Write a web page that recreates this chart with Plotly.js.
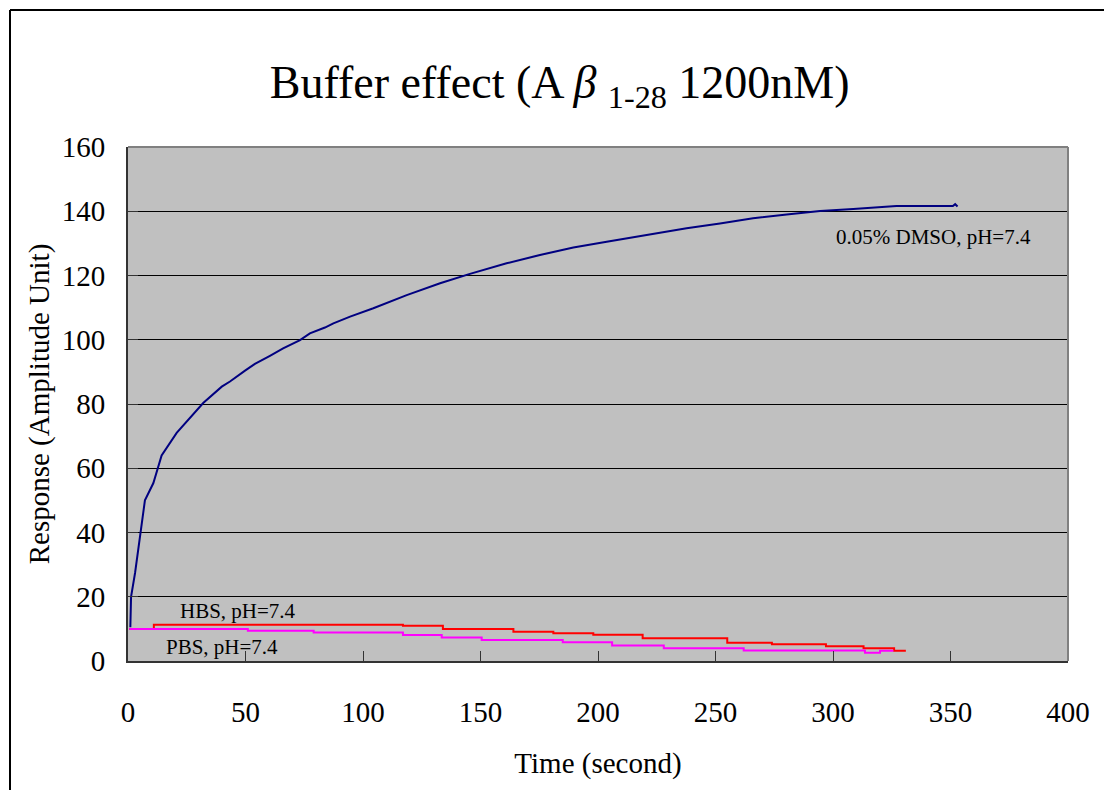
<!DOCTYPE html>
<html>
<head>
<meta charset="utf-8">
<script src="https://cdn.plot.ly/plotly-3.0.1.min.js"></script>
<style>html,body{margin:0;padding:0;background:#fff;}#chart{width:1104px;height:790px;}</style>
</head>
<body>
<div id="chart"></div>
<script>
// ---- data ----
const dmsoTime = [1, 1.3, 3, 4.4, 5.5, 7.2, 10.8, 14.3, 20.7, 25, 32, 39.9, 43.4, 49.8, 54, 60.4, 66, 73.2, 77.4, 83.8, 87.4, 94.5, 104.4, 118.6, 132.8, 145.5, 161.1, 175.3, 189.5, 203.7, 216.5, 223.5, 237.7, 251.9, 266, 280.3, 294.5, 308.6, 315.7, 327, 351, 352, 353];
const dmsoResp = [10.5, 20, 27.4, 34.5, 40, 50, 55.4, 64, 71, 74.5, 80.3, 85.4, 87, 90.4, 92.5, 95, 97.3, 99.9, 102, 103.8, 105.1, 107.2, 109.8, 113.9, 117.6, 120.5, 123.8, 126.4, 128.7, 130.5, 132.1, 133.1, 134.7, 136.2, 137.8, 139, 140.1, 140.7, 141.1, 141.6, 141.6, 142.2, 141.5];

const hbsTime = [0.5, 11, 117, 134, 164, 181, 198, 219, 255, 274, 297, 313, 326, 331];
const hbsResp = [10.0, 11.3, 11.0, 10.0, 9.1, 8.6, 8.2, 7.1, 5.7, 5.2, 4.6, 4.0, 3.2, 3.2];

const pbsTime = [0.5, 51, 79, 117, 133.5, 150.5, 185, 206, 228, 262, 313.6, 320, 325.7];
const pbsResp = [10.0, 9.4, 8.9, 8.1, 7.3, 6.5, 5.8, 4.8, 4.0, 3.3, 2.6, 3.2, 3.2];

const seriesNames = ["0.05% DMSO, pH=7.4", "HBS, pH=7.4", "PBS, pH=7.4"];
const xTicks = [0, 50, 100, 150, 200, 250, 300, 350, 400];
const yTicks = [0, 20, 40, 60, 80, 100, 120, 140, 160];

const FONT = "'Liberation Serif', 'Times New Roman', serif";

const traces = [
  {x: dmsoTime, y: dmsoResp, name: seriesNames[0], mode: 'lines', line: {color: '#000080', width: 2}},
  {x: hbsTime, y: hbsResp, name: seriesNames[1], mode: 'lines', line: {color: '#FF0000', width: 2, shape: 'hv'}},
  {x: pbsTime, y: pbsResp, name: seriesNames[2], mode: 'lines', line: {color: '#FF00FF', width: 2, shape: 'hv'}}
];

const L = 128, R = 1068, T = 147, B = 661, W = 1104, H = 790;
const px = v => (v - L) / (R - L);
const py = v => (B - v) / (B - T);

const layout = {
  width: W, height: H,
  margin: {l: L, r: W - R, t: T, b: H - B, pad: 0},
  paper_bgcolor: '#ffffff',
  plot_bgcolor: '#C0C0C0',
  showlegend: false,
  font: {family: FONT, color: '#000'},
  title: {
    text: 'Buffer effect (A <i>β</i> <sub>1-28</sub> 1200nM)',
    font: {family: FONT, size: 46, color: '#000'},
    x: 0.507, xanchor: 'center', xref: 'container',
    y: 1 - 82 / H, yanchor: 'middle'
  },
  xaxis: {
    range: [0, 400], tickvals: xTicks, ticktext: xTicks.map(String),
    showgrid: false, zeroline: false,
    showline: true, linecolor: '#333333', linewidth: 2,
    ticks: 'inside', ticklen: 10, tickcolor: '#333333', tickwidth: 1,
    tickfont: {family: FONT, size: 29, color: '#000'},
    ticklabelstandoff: 24,
    title: {text: 'Time (second)', font: {family: FONT, size: 29, color: '#000'}, standoff: 26}
  },
  yaxis: {
    range: [0, 160], tickvals: yTicks, ticktext: yTicks.map(String),
    showgrid: true, gridcolor: '#000000', gridwidth: 1, zeroline: false,
    showline: true, linecolor: '#333333', linewidth: 2,
    ticks: 'inside', ticklen: 10, tickcolor: '#333333', tickwidth: 1,
    tickfont: {family: FONT, size: 29, color: '#000'},
    ticklabelstandoff: 15,
    title: {text: 'Response (Amplitude Unit)', font: {family: FONT, size: 29, color: '#000'}, standoff: 4}
  },
  shapes: [
    // plot-area top & right borders (gray)
    {type: 'line', xref: 'paper', yref: 'paper', x0: 0, x1: 1, y0: 1, y1: 1, line: {color: '#808080', width: 2}},
    {type: 'line', xref: 'paper', yref: 'paper', x0: 1, x1: 1, y0: 0, y1: 1, line: {color: '#808080', width: 2}},
    // outer chart frame
    {type: 'line', xref: 'paper', yref: 'paper', x0: px(10), x1: px(1104), y0: py(10), y1: py(10), line: {color: '#000', width: 2}},
    {type: 'line', xref: 'paper', yref: 'paper', x0: px(10), x1: px(10), y0: py(10), y1: py(800), line: {color: '#000', width: 2}}
  ],
  annotations: [
    {x: 342.8, y: 132, xref: 'x', yref: 'y', text: seriesNames[0], showarrow: false, font: {family: FONT, size: 21, color: '#000'}},
    {x: 47, y: 15.6, xref: 'x', yref: 'y', text: seriesNames[1], showarrow: false, font: {family: FONT, size: 21, color: '#000'}},
    {x: 40, y: 4.4, xref: 'x', yref: 'y', text: seriesNames[2], showarrow: false, font: {family: FONT, size: 21, color: '#000'}}
  ]
};

Plotly.newPlot('chart', traces, layout, {displayModeBar: false, staticPlot: true});
</script>
</body>
</html>
